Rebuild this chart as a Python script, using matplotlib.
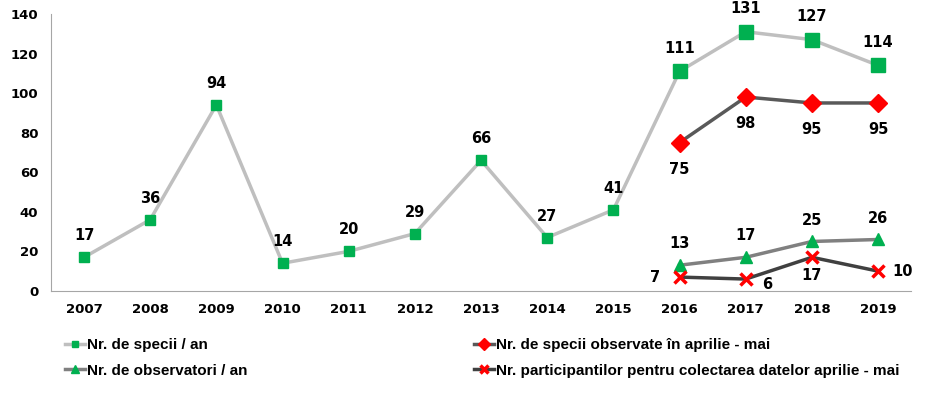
import matplotlib.pyplot as plt

years = [2007, 2008, 2009, 2010, 2011, 2012, 2013, 2014, 2015, 2016, 2017, 2018, 2019]
species = [17, 36, 94, 14, 20, 29, 66, 27, 41, 111, 131, 127, 114]
years_late = [2016, 2017, 2018, 2019]
species_apr = [75, 98, 95, 95]
observers = [13, 17, 25, 26]
participants = [7, 6, 17, 10]

plt.rcParams['font.family'] = ['DejaVu Sans']
plt.rcParams['font.weight'] = 'bold'

fig = plt.figure(figsize=(9.26, 3.98), dpi=100)
ax = fig.add_axes([0.055, 0.269, 0.929, 0.696])

x = list(range(len(years)))
xl = [years.index(y) for y in years_late]

green = '#00B050'
red = '#FF0000'

h1, = ax.plot(x, species, color='#BFBFBF', lw=2.5, marker='s', ms=7, mfc=green, mec=green,
              label='Nr. de specii / an', zorder=2)
ax.plot(xl, species[9:], ls='none', marker='s', ms=9.5, mfc=green, mec=green, zorder=3)
h2, = ax.plot(xl, species_apr, color='#595959', lw=2.5, marker='D', ms=9, mfc=red, mec=red,
              label='Nr. de specii observate în aprilie - mai', zorder=3)
h3, = ax.plot(xl, observers, color='#808080', lw=2.5, marker='^', ms=8, mfc=green, mec=green,
              label='Nr. de observatori / an', zorder=3)
h4, = ax.plot(xl, participants, color='#404040', lw=2.5, marker='x', ms=8, mew=2.5, mec=red,
              label='Nr. participantilor pentru colectarea datelor aprilie - mai', zorder=4)

fs = 10.5
for xi, v in zip(x, species):
    off = 10 if xi < 9 else 11
    ax.annotate(str(v), (xi, v), xytext=(0, off), textcoords='offset points',
                ha='center', va='bottom', fontsize=fs, fontweight='bold')
for xi, v in zip(xl, species_apr):
    ax.annotate(str(v), (xi, v), xytext=(0, -14), textcoords='offset points',
                ha='center', va='top', fontsize=fs, fontweight='bold')
for xi, v in zip(xl, observers):
    ax.annotate(str(v), (xi, v), xytext=(0, 10), textcoords='offset points',
                ha='center', va='bottom', fontsize=fs, fontweight='bold')
p_off = [(-14, 0, 'right', 'center'), (12, -4, 'left', 'center'),
         (0, -8, 'center', 'top'), (10, 0, 'left', 'center')]
for xi, v, (dx, dy, ha, va) in zip(xl, participants, p_off):
    ax.annotate(str(v), (xi, v), xytext=(dx, dy), textcoords='offset points',
                ha=ha, va=va, fontsize=fs, fontweight='bold')

ax.set_xlim(-0.5, len(years) - 0.5)
ax.set_ylim(0, 140)
ax.set_yticks(range(0, 141, 20))
ax.set_xticks(x)
ax.set_xticklabels([str(y) for y in years])
for lab in ax.get_xticklabels() + ax.get_yticklabels():
    lab.set_fontweight('bold')
    lab.set_fontsize(9.5)
ax.tick_params(length=0, pad=9)
ax.spines['top'].set_visible(False)
ax.spines['right'].set_visible(False)
ax.spines['left'].set_color('#A6A6A6')
ax.spines['bottom'].set_color('#A6A6A6')

leg_kw = dict(loc='upper left', frameon=False, handlelength=1.3, handletextpad=0.15,
              labelspacing=0.75, markerscale=0.65,
              prop={'family': 'Liberation Sans', 'weight': 'bold', 'size': 11})
fig.legend([h1, h3], [h1.get_label(), h3.get_label()],
           bbox_to_anchor=(0.055, 0.185), **leg_kw)
fig.legend([h2, h4], [h2.get_label(), h4.get_label()],
           bbox_to_anchor=(0.497, 0.185), **leg_kw)

fig.savefig('out.png', dpi=100)
